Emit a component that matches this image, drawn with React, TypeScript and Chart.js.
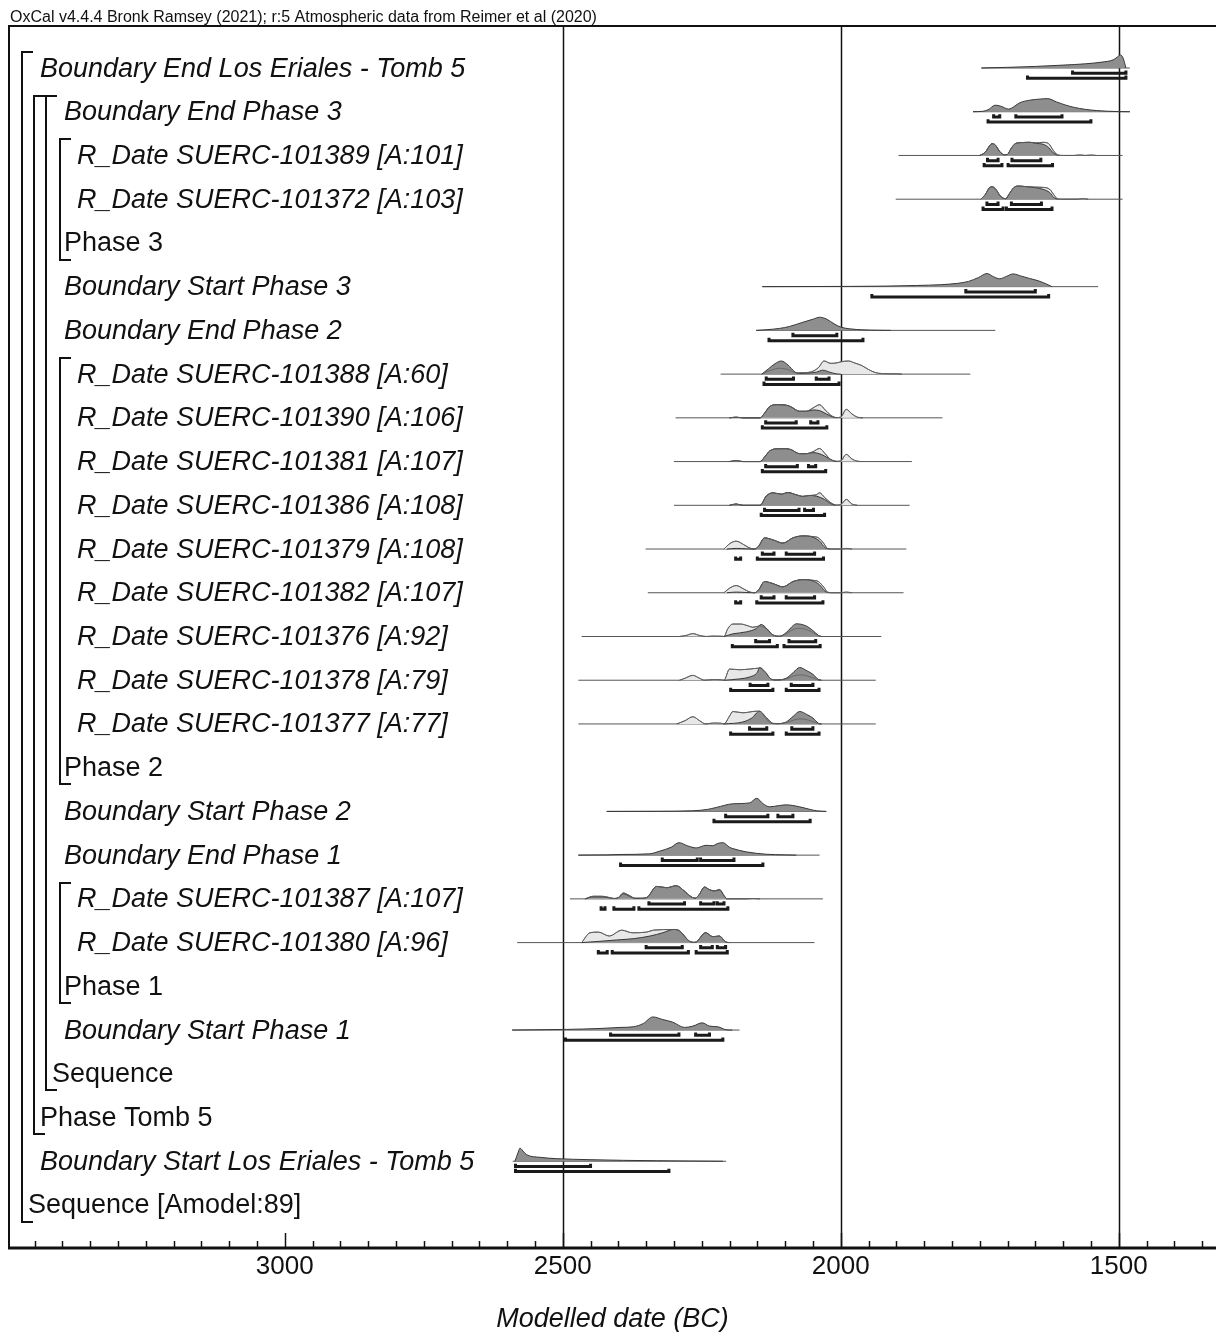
import { useEffect, useRef } from 'react';
import { Chart, registerables } from 'chart.js';
Chart.register(...registerables);

// ---------- text ----------
const headerText = 'OxCal v4.4.4 Bronk Ramsey (2021); r:5 Atmospheric data from Reimer et al (2020)';
const axisTitle = 'Modelled date (BC)';
const majorTicks = [3000, 2500, 2000, 1500];
const gridYears = [2500, 2000, 1500];
const minorTickFrom = 3450;
const minorTickTo = 1350;
const minorTickStep = 50;

const rowLabels = [
  'Boundary End Los Eriales - Tomb 5',
  'Boundary End Phase 3',
  'R_Date SUERC-101389 [A:101]',
  'R_Date SUERC-101372 [A:103]',
  'Phase 3',
  'Boundary Start Phase 3',
  'Boundary End Phase 2',
  'R_Date SUERC-101388 [A:60]',
  'R_Date SUERC-101390 [A:106]',
  'R_Date SUERC-101381 [A:107]',
  'R_Date SUERC-101386 [A:108]',
  'R_Date SUERC-101379 [A:108]',
  'R_Date SUERC-101382 [A:107]',
  'R_Date SUERC-101376 [A:92]',
  'R_Date SUERC-101378 [A:79]',
  'R_Date SUERC-101377 [A:77]',
  'Phase 2',
  'Boundary Start Phase 2',
  'Boundary End Phase 1',
  'R_Date SUERC-101387 [A:107]',
  'R_Date SUERC-101380 [A:96]',
  'Phase 1',
  'Boundary Start Phase 1',
  'Sequence',
  'Phase Tomb 5',
  'Boundary Start Los Eriales - Tomb 5',
  'Sequence [Amodel:89]',
];
const rowLevels = [1, 3, 4, 4, 3, 3, 3, 4, 4, 4, 4, 4, 4, 4, 4, 4, 3, 3, 3, 4, 4, 3, 3, 2, 1, 1, 0];
const rowItalic = [1, 1, 1, 1, 0, 1, 1, 1, 1, 1, 1, 1, 1, 1, 1, 1, 0, 1, 1, 1, 1, 0, 1, 0, 0, 1, 0];
// [firstRow, lastRow, level]
const groups = [
  [0, 26, 0],
  [1, 24, 1],
  [1, 23, 2],
  [2, 4, 3],
  [7, 16, 3],
  [19, 21, 3],
];

// ---------- distributions: [year BC, relative probability] ----------
const endTomb5Post = [[1747, 0], [1700, 0.05], [1650, 0.12], [1600, 0.22], [1560, 0.32], [1530, 0.45], [1510, 0.62], [1502, 0.85], [1497, 1.0], [1492, 0.75], [1487, 0]];
const endTomb5Base = [1747, 1480];
const endTomb5R68 = [[1583, 1487]];
const endTomb5R95 = [[1664, 1487]];

const endP3Post = [[1762, 0], [1745, 0.03], [1735, 0.15], [1722, 0.5], [1712, 0.42], [1698, 0.2], [1688, 0.4], [1678, 0.68], [1660, 0.88], [1640, 0.97], [1628, 1.0], [1612, 0.75], [1595, 0.5], [1580, 0.33], [1560, 0.18], [1540, 0.09], [1520, 0.04], [1500, 0.01], [1480, 0]];
const endP3Base = [1762, 1480];
const endP3R68 = [[1725, 1714], [1685, 1602]];
const endP3R95 = [[1735, 1550]];

const s101389Post = [[1750, 0], [1740, 0.25], [1732, 0.75], [1728, 0.9], [1722, 0.8], [1714, 0.3], [1706, 0.05], [1700, 0.08], [1694, 0.5], [1686, 0.9], [1675, 0.98], [1660, 1.0], [1648, 0.92], [1636, 0.85], [1626, 0.6], [1618, 0.2], [1610, 0]];
const s101389Like = [[1750, 0], [1740, 0.25], [1732, 0.75], [1728, 0.9], [1722, 0.8], [1714, 0.3], [1706, 0.05], [1700, 0.08], [1694, 0.5], [1686, 0.9], [1675, 0.98], [1660, 1.0], [1648, 0.96], [1636, 1.0], [1626, 0.9], [1618, 0.4], [1610, 0.05], [1600, 0], [1580, 0], [1570, 0.04], [1560, 0], [1550, 0.03], [1540, 0]];
const s101389Base = [1896, 1493];
const s101389R68 = [[1736, 1717], [1692, 1640]];
const s101389R95 = [[1742, 1710], [1699, 1619]];

const s101372Post = [[1748, 0], [1740, 0.35], [1733, 0.85], [1728, 0.95], [1722, 0.8], [1712, 0.2], [1703, 0.04], [1697, 0.4], [1688, 0.9], [1680, 1.0], [1665, 0.95], [1650, 0.88], [1636, 0.75], [1624, 0.5], [1616, 0.1], [1610, 0]];
const s101372Like = [[1748, 0], [1740, 0.35], [1733, 0.85], [1728, 0.95], [1722, 0.8], [1712, 0.2], [1703, 0.04], [1697, 0.4], [1688, 0.9], [1680, 1.0], [1665, 0.95], [1650, 0.92], [1636, 0.9], [1624, 0.75], [1616, 0.3], [1610, 0.03], [1600, 0], [1575, 0], [1565, 0.04], [1555, 0]];
const s101372Base = [1901, 1493];
const s101372R68 = [[1737, 1717], [1693, 1639]];
const s101372R95 = [[1744, 1708], [1702, 1620]];

const startP3Post = [[2141, 0], [2050, 0.01], [1984, 0.02], [1924, 0.04], [1864, 0.09], [1820, 0.15], [1790, 0.25], [1770, 0.4], [1752, 0.7], [1737, 1.0], [1725, 0.75], [1714, 0.6], [1702, 0.78], [1690, 0.97], [1675, 0.8], [1660, 0.62], [1645, 0.45], [1630, 0.2], [1620, 0]];
const startP3Base = [2141, 1537];
const startP3R68 = [[1775, 1650]];
const startP3R95 = [[1944, 1626]];

const endP2Post = [[2152, 0], [2134, 0.05], [2110, 0.15], [2092, 0.3], [2068, 0.62], [2050, 0.85], [2038, 1.0], [2025, 0.85], [2012, 0.5], [2000, 0.25], [1984, 0.12], [1960, 0.04], [1930, 0.01], [1910, 0]];
const endP2Base = [2152, 1722];
const endP2R68 = [[2086, 2007]];
const endP2R95 = [[2129, 1960]];

const s101388Post = [[2142, 0], [2130, 0.4], [2118, 0.8], [2107, 1.0], [2095, 0.7], [2082, 0.15], [2074, 0.05], [2060, 0.07], [2044, 0.15], [2032, 0.3], [2020, 0.15], [2008, 0.02], [2000, 0]];
const s101388Like = [[2142, 0], [2128, 0.25], [2110, 0.45], [2095, 0.35], [2082, 0.12], [2070, 0.1], [2055, 0.15], [2040, 0.5], [2030, 1.0], [2018, 0.82], [2008, 0.85], [1998, 0.95], [1986, 1.0], [1975, 0.85], [1962, 0.65], [1950, 0.35], [1938, 0.12], [1925, 0.04], [1900, 0.02], [1890, 0]];
const s101388Base = [2216, 1767];
const s101388R68 = [[2134, 2085], [2044, 2021]];
const s101388R95 = [[2138, 2003]];

const s101390Post = [[2200, 0], [2188, 0.05], [2176, 0], [2145, 0], [2138, 0.3], [2128, 0.85], [2116, 1.0], [2100, 0.98], [2090, 0.85], [2074, 0.5], [2062, 0.5], [2050, 0.6], [2038, 0.55], [2026, 0.3], [2015, 0.08], [2008, 0]];
const s101390Like = [[2200, 0], [2188, 0.05], [2176, 0], [2145, 0], [2138, 0.3], [2128, 0.85], [2116, 1.0], [2100, 0.98], [2090, 0.85], [2074, 0.5], [2062, 0.5], [2050, 0.75], [2038, 1.0], [2028, 0.6], [2018, 0.2], [2008, 0.02], [2000, 0.05], [1990, 0.65], [1980, 0.3], [1970, 0.05], [1960, 0]];
const s101390Base = [2297, 1817];
const s101390R68 = [[2135, 2080], [2054, 2041]];
const s101390R95 = [[2141, 2025]];

const s101381Post = [[2200, 0], [2188, 0.07], [2176, 0], [2145, 0], [2136, 0.4], [2128, 0.8], [2116, 0.97], [2100, 0.98], [2090, 0.92], [2074, 0.6], [2062, 0.6], [2050, 0.68], [2035, 0.55], [2022, 0.25], [2012, 0.05], [2006, 0]];
const s101381Like = [[2200, 0], [2188, 0.07], [2176, 0], [2145, 0], [2136, 0.4], [2128, 0.8], [2116, 0.97], [2100, 0.98], [2090, 0.92], [2074, 0.6], [2062, 0.6], [2050, 0.75], [2038, 1.0], [2028, 0.6], [2018, 0.15], [2008, 0.02], [2000, 0.05], [1990, 0.55], [1980, 0.2], [1970, 0.03], [1960, 0]];
const s101381Base = [2300, 1872];
const s101381R68 = [[2135, 2078], [2058, 2045]];
const s101381R95 = [[2141, 2027]];

const s101386Post = [[2200, 0], [2188, 0.1], [2176, 0], [2145, 0], [2134, 0.7], [2122, 0.95], [2107, 0.85], [2095, 0.97], [2080, 0.8], [2068, 0.68], [2056, 0.75], [2044, 0.7], [2029, 0.45], [2018, 0.12], [2010, 0]];
const s101386Like = [[2200, 0], [2188, 0.1], [2176, 0], [2145, 0], [2134, 0.7], [2122, 0.95], [2107, 0.85], [2095, 0.97], [2080, 0.8], [2068, 0.68], [2056, 0.75], [2044, 0.8], [2038, 0.95], [2029, 0.6], [2018, 0.2], [2008, 0.02], [2000, 0.05], [1990, 0.45], [1980, 0.1], [1970, 0]];
const s101386Base = [2300, 1876];
const s101386R68 = [[2137, 2075], [2065, 2049]];
const s101386R95 = [[2143, 2029]];

const s101379Post = [[2205, 0], [2188, 0.05], [2170, 0.02], [2155, 0], [2148, 0.2], [2137, 0.85], [2122, 0.7], [2104, 0.45], [2086, 0.85], [2068, 1.0], [2050, 0.9], [2038, 0.6], [2028, 0.1], [2020, 0]];
const s101379Like = [[2210, 0], [2200, 0.4], [2188, 0.6], [2175, 0.35], [2165, 0.1], [2155, 0], [2148, 0.2], [2137, 0.85], [2122, 0.7], [2104, 0.45], [2086, 0.85], [2068, 1.0], [2050, 0.95], [2040, 0.85], [2030, 0.4], [2024, 0.05], [2015, 0], [2000, 0], [1990, 0.05], [1980, 0]];
const s101379Base = [2351, 1882];
const s101379R68 = [[2141, 2120], [2098, 2047]];
const s101379R95 = [[2189, 2180], [2150, 2031]];

const s101382Post = [[2205, 0], [2188, 0.05], [2170, 0.02], [2155, 0], [2148, 0.2], [2137, 0.85], [2122, 0.7], [2104, 0.45], [2086, 0.85], [2068, 1.0], [2050, 0.9], [2038, 0.6], [2028, 0.1], [2020, 0]];
const s101382Like = [[2210, 0], [2200, 0.35], [2188, 0.55], [2175, 0.3], [2165, 0.08], [2155, 0], [2148, 0.2], [2137, 0.85], [2122, 0.7], [2104, 0.45], [2086, 0.85], [2068, 1.0], [2050, 0.95], [2040, 0.85], [2030, 0.4], [2024, 0.05], [2015, 0], [2000, 0], [1990, 0.05], [1980, 0]];
const s101382Base = [2347, 1887];
const s101382R68 = [[2143, 2120], [2098, 2047]];
const s101382R95 = [[2189, 2180], [2151, 2032]];

const s101376Post = [[2210, 0], [2194, 0.2], [2170, 0.35], [2152, 0.6], [2143, 0.92], [2133, 0.6], [2122, 0.12], [2110, 0.02], [2098, 0.3], [2085, 0.85], [2080, 0.97], [2062, 0.8], [2050, 0.45], [2040, 0.08], [2035, 0]];
const s101376Like = [[2290, 0], [2278, 0.08], [2266, 0.22], [2254, 0.08], [2242, 0], [2230, 0.03], [2215, 0.02], [2210, 0], [2203, 0.6], [2194, 0.95], [2180, 0.95], [2166, 0.8], [2158, 0.7], [2146, 0.8], [2133, 0.55], [2122, 0.12], [2110, 0.02], [2098, 0.2], [2085, 0.55], [2074, 0.62], [2060, 0.5], [2050, 0.3], [2040, 0.05], [2035, 0]];
const s101376Base = [2466, 1927];
const s101376R68 = [[2153, 2128], [2093, 2045]];
const s101376R95 = [[2195, 2114], [2102, 2037]];

const s101378Post = [[2210, 0], [2182, 0.1], [2164, 0.25], [2150, 0.6], [2146, 0.97], [2136, 0.65], [2125, 0.08], [2115, 0.02], [2098, 0.15], [2085, 0.6], [2074, 0.97], [2060, 0.7], [2050, 0.45], [2040, 0.05], [2035, 0]];
const s101378Like = [[2290, 0], [2280, 0.15], [2266, 0.37], [2254, 0.15], [2245, 0], [2230, 0.05], [2215, 0.03], [2210, 0], [2200, 0.85], [2182, 0.8], [2164, 0.85], [2146, 0.92], [2136, 0.6], [2125, 0.08], [2115, 0.02], [2098, 0.1], [2080, 0.38], [2070, 0.4], [2055, 0.25], [2040, 0.02], [2035, 0]];
const s101378Base = [2472, 1937];
const s101378R68 = [[2163, 2131], [2089, 2050]];
const s101378R95 = [[2198, 2122], [2098, 2039]];

const s101377Post = [[2210, 0], [2176, 0.15], [2160, 0.45], [2146, 0.97], [2134, 0.5], [2122, 0.05], [2110, 0.02], [2098, 0.15], [2085, 0.6], [2074, 0.95], [2060, 0.7], [2050, 0.45], [2040, 0.05], [2035, 0]];
const s101377Like = [[2295, 0], [2280, 0.25], [2266, 0.55], [2254, 0.25], [2243, 0], [2230, 0.07], [2215, 0.05], [2210, 0], [2200, 0.6], [2194, 0.95], [2176, 0.85], [2152, 0.97], [2146, 0.97], [2136, 0.5], [2125, 0.05], [2115, 0.02], [2098, 0.1], [2080, 0.35], [2068, 0.38], [2055, 0.25], [2040, 0.02], [2035, 0]];
const s101377Base = [2472, 1937];
const s101377R68 = [[2164, 2133], [2088, 2050]];
const s101377R95 = [[2198, 2122], [2098, 2039]];

const startP2Post = [[2421, 0], [2330, 0.01], [2266, 0.05], [2240, 0.15], [2224, 0.3], [2194, 0.58], [2164, 0.65], [2151, 1.0], [2140, 0.6], [2128, 0.35], [2110, 0.45], [2098, 0.5], [2074, 0.35], [2055, 0.15], [2044, 0.05], [2026, 0]];
const startP2Base = [2421, 2026];
const startP2R68 = [[2207, 2131], [2113, 2086]];
const startP2R95 = [[2228, 2055]];

const endP1Post = [[2472, 0], [2420, 0.02], [2397, 0.05], [2344, 0.1], [2326, 0.3], [2305, 0.6], [2291, 0.95], [2275, 0.7], [2260, 0.55], [2242, 0.75], [2230, 0.72], [2222, 0.88], [2212, 0.95], [2200, 0.6], [2194, 0.5], [2170, 0.25], [2134, 0.07], [2100, 0.02], [2080, 0]];
const endP1Base = [2472, 2038];
const endP1R68 = [[2321, 2258], [2252, 2192]];
const endP1R95 = [[2396, 2140]];

const s101387Post = [[2460, 0], [2445, 0.15], [2430, 0.15], [2421, 0.12], [2408, 0.03], [2400, 0.08], [2391, 0.4], [2380, 0.2], [2370, 0.04], [2360, 0.04], [2349, 0.1], [2331, 0.95], [2313, 0.85], [2296, 1.0], [2280, 0.55], [2272, 0.25], [2262, 0.05], [2255, 0.3], [2245, 0.9], [2236, 0.7], [2227, 0.6], [2218, 0.68], [2210, 0.25], [2205, 0]];
const s101387Like = [[2460, 0], [2445, 0.2], [2430, 0.2], [2421, 0.15], [2408, 0.03], [2400, 0.1], [2391, 0.45], [2380, 0.25], [2370, 0.05], [2360, 0.05], [2349, 0.1], [2331, 0.95], [2313, 0.85], [2296, 1.0], [2280, 0.55], [2272, 0.25], [2262, 0.05], [2255, 0.3], [2245, 0.9], [2236, 0.7], [2227, 0.6], [2218, 0.72], [2210, 0.25], [2205, 0], [2170, 0], [2158, 0.03], [2145, 0]];
const s101387Base = [2487, 2032];
const s101387R68 = [[2345, 2281], [2252, 2228], [2222, 2210]];
const s101387R95 = [[2431, 2424], [2408, 2372], [2363, 2203]];

const s101380Post = [[2466, 0], [2433, 0.1], [2403, 0.2], [2373, 0.3], [2343, 0.5], [2320, 0.75], [2301, 1.0], [2290, 0.9], [2272, 0.1], [2262, 0.02], [2243, 0.75], [2230, 0.45], [2218, 0.5], [2207, 0.05], [2200, 0]];
const s101380Like = [[2466, 0], [2451, 0.75], [2436, 0.8], [2416, 0.5], [2394, 0.95], [2375, 0.75], [2349, 0.8], [2337, 0.95], [2301, 1.0], [2290, 0.9], [2272, 0.1], [2262, 0.02], [2243, 0.75], [2230, 0.45], [2218, 0.5], [2207, 0.05], [2200, 0]];
const s101380Base = [2582, 2047];
const s101380R68 = [[2350, 2285], [2252, 2231], [2222, 2207]];
const s101380R95 = [[2436, 2420], [2411, 2274], [2260, 2204]];

const startP1Post = [[2591, 0], [2550, 0.02], [2493, 0.05], [2433, 0.12], [2397, 0.2], [2373, 0.25], [2355, 0.5], [2338, 1.0], [2320, 0.8], [2302, 0.6], [2281, 0.2], [2266, 0.3], [2249, 0.55], [2236, 0.3], [2221, 0.25], [2206, 0.02], [2195, 0]];
const startP1Base = [2591, 2182];
const startP1R68 = [[2414, 2291], [2261, 2236]];
const startP1R95 = [[2495, 2212]];

const startTomb5Post = [[2586, 0], [2580, 0.7], [2577, 1.0], [2570, 0.7], [2565, 0.5], [2541, 0.3], [2511, 0.2], [2451, 0.12], [2391, 0.07], [2332, 0.04], [2272, 0.02], [2212, 0]];
const startTomb5Base = [2590, 2206];
const startTomb5R68 = [[2585, 2450]];
const startTomb5R95 = [[2585, 2309]];

const distTable = [
  { row: 0, post: endTomb5Post, like: null, base: endTomb5Base, r68: endTomb5R68, r95: endTomb5R95 },
  { row: 1, post: endP3Post, like: null, base: endP3Base, r68: endP3R68, r95: endP3R95 },
  { row: 2, post: s101389Post, like: s101389Like, base: s101389Base, r68: s101389R68, r95: s101389R95 },
  { row: 3, post: s101372Post, like: s101372Like, base: s101372Base, r68: s101372R68, r95: s101372R95 },
  { row: 5, post: startP3Post, like: null, base: startP3Base, r68: startP3R68, r95: startP3R95 },
  { row: 6, post: endP2Post, like: null, base: endP2Base, r68: endP2R68, r95: endP2R95 },
  { row: 7, post: s101388Post, like: s101388Like, base: s101388Base, r68: s101388R68, r95: s101388R95 },
  { row: 8, post: s101390Post, like: s101390Like, base: s101390Base, r68: s101390R68, r95: s101390R95 },
  { row: 9, post: s101381Post, like: s101381Like, base: s101381Base, r68: s101381R68, r95: s101381R95 },
  { row: 10, post: s101386Post, like: s101386Like, base: s101386Base, r68: s101386R68, r95: s101386R95 },
  { row: 11, post: s101379Post, like: s101379Like, base: s101379Base, r68: s101379R68, r95: s101379R95 },
  { row: 12, post: s101382Post, like: s101382Like, base: s101382Base, r68: s101382R68, r95: s101382R95 },
  { row: 13, post: s101376Post, like: s101376Like, base: s101376Base, r68: s101376R68, r95: s101376R95 },
  { row: 14, post: s101378Post, like: s101378Like, base: s101378Base, r68: s101378R68, r95: s101378R95 },
  { row: 15, post: s101377Post, like: s101377Like, base: s101377Base, r68: s101377R68, r95: s101377R95 },
  { row: 17, post: startP2Post, like: null, base: startP2Base, r68: startP2R68, r95: startP2R95 },
  { row: 18, post: endP1Post, like: null, base: endP1Base, r68: endP1R68, r95: endP1R95 },
  { row: 19, post: s101387Post, like: s101387Like, base: s101387Base, r68: s101387R68, r95: s101387R95 },
  { row: 20, post: s101380Post, like: s101380Like, base: s101380Base, r68: s101380R68, r95: s101380R95 },
  { row: 22, post: startP1Post, like: null, base: startP1Base, r68: startP1R68, r95: startP1R95 },
  { row: 25, post: startTomb5Post, like: null, base: startTomb5Base, r68: startTomb5R68, r95: startTomb5R95 },
];

// ---------- styling ----------
const FONT = '"Liberation Sans", Arial, Helvetica, sans-serif';
const PEAK = 0.3; // row units
const OFF68 = 0.12;
const OFF95 = 0.235;
const TICKUP = 0.065;
const DARK_FILL = 'rgb(142,142,142)';
const DARK_LINE = 'rgb(55,55,55)';
const LIGHT_FILL = 'rgb(232,232,232)';
const LIGHT_LINE = 'rgb(95,95,95)';
const BASE_LINE = 'rgb(85,85,85)';
const INK = '#111';
const bracketX = [22, 34, 46, 60];
const labelX = [28, 40, 52, 64, 77];

function curve(pts: number[][], row: number) {
  return pts.map(([yr, p]) => ({ x: yr, y: row - p * PEAK }));
}
function rangePts(segs: number[][], row: number, off: number) {
  const out: { x: number; y: number }[] = [];
  segs.forEach(([a, b]) => {
    out.push({ x: a, y: row + off - TICKUP }, { x: a, y: row + off }, { x: b, y: row + off }, { x: b, y: row + off - TICKUP }, { x: b, y: NaN });
  });
  return out;
}

function buildDatasets() {
  const ds: any[] = [];
  const common = { pointRadius: 0, cubicInterpolationMode: 'monotone', spanGaps: false };
  const all68: any[] = [];
  const all95: any[] = [];
  distTable.forEach((d) => {
    ds.push({ ...common, order: 50, data: [{ x: d.base[0], y: d.row }, { x: d.base[1], y: d.row }], borderColor: BASE_LINE, borderWidth: 1, fill: false });
    if (d.like) {
      ds.push({ ...common, order: 40, data: curve(d.like, d.row), borderColor: LIGHT_LINE, borderWidth: 1, backgroundColor: LIGHT_FILL, fill: { value: d.row } });
    }
    ds.push({ ...common, order: 30, data: curve(d.post, d.row), borderColor: DARK_LINE, borderWidth: 1, backgroundColor: DARK_FILL, fill: { value: d.row } });
    if (d.like) {
      ds.push({ ...common, order: 20, data: curve(d.like, d.row), borderColor: LIGHT_LINE, borderWidth: 0.8, fill: false });
    }
    all68.push(...rangePts(d.r68, d.row, OFF68));
    all95.push(...rangePts(d.r95, d.row, OFF95));
  });
  ds.push({ pointRadius: 0, order: 10, data: all68, borderColor: '#1a1a1a', borderWidth: 3, borderJoinStyle: 'miter', borderCapStyle: 'butt', fill: false, spanGaps: false, tension: 0 });
  ds.push({ pointRadius: 0, order: 10, data: all95, borderColor: '#1a1a1a', borderWidth: 3, borderJoinStyle: 'miter', borderCapStyle: 'butt', fill: false, spanGaps: false, tension: 0 });
  return ds;
}

const decor = {
  id: 'oxcalDecor',
  beforeDatasetsDraw(chart: any) {
    const { ctx, chartArea, scales } = chart;
    ctx.save();
    ctx.strokeStyle = INK;
    ctx.lineWidth = 1.5;
    gridYears.forEach((yr) => {
      const x = Math.round(scales.x.getPixelForValue(yr)) + 0.5;
      ctx.beginPath();
      ctx.moveTo(x, chartArea.top);
      ctx.lineTo(x, chartArea.bottom);
      ctx.stroke();
    });
    ctx.restore();
  },
  afterDraw(chart: any) {
    const { ctx, chartArea, scales } = chart;
    const xs = scales.x;
    const ys = scales.y;
    ctx.save();
    // frame
    ctx.strokeStyle = INK;
    ctx.lineWidth = 2;
    ctx.beginPath();
    ctx.moveTo(chartArea.right, chartArea.top);
    ctx.lineTo(chartArea.left, chartArea.top);
    ctx.lineTo(chartArea.left, chartArea.bottom);
    ctx.stroke();
    ctx.lineWidth = 3;
    ctx.beginPath();
    ctx.moveTo(chartArea.left - 1, chartArea.bottom);
    ctx.lineTo(chartArea.right, chartArea.bottom);
    ctx.stroke();
    // ticks
    ctx.lineWidth = 1.5;
    for (let yr = minorTickFrom; yr >= minorTickTo; yr -= minorTickStep) {
      const x = Math.round(xs.getPixelForValue(yr)) + 0.5;
      const len = majorTicks.includes(yr) ? 15 : 7;
      ctx.beginPath();
      ctx.moveTo(x, chartArea.bottom);
      ctx.lineTo(x, chartArea.bottom - len);
      ctx.stroke();
    }
    // tick labels
    ctx.fillStyle = INK;
    ctx.font = `26px ${FONT}`;
    ctx.textAlign = 'center';
    ctx.textBaseline = 'middle';
    majorTicks.forEach((yr) => {
      ctx.fillText(String(yr), xs.getPixelForValue(yr), chartArea.bottom + 19);
    });
    ctx.font = `italic 27px ${FONT}`;
    ctx.fillText(axisTitle, (chartArea.left + chartArea.right) / 2, chartArea.bottom + 71);
    // header
    ctx.textAlign = 'left';
    ctx.textBaseline = 'alphabetic';
    ctx.font = `16px ${FONT}`;
    ctx.fillText(headerText, 10, chartArea.top - 4);
    // row labels
    ctx.textBaseline = 'middle';
    rowLabels.forEach((lab, i) => {
      ctx.font = `${rowItalic[i] ? 'italic ' : ''}27px ${FONT}`;
      ctx.fillText(lab, labelX[rowLevels[i]], ys.getPixelForValue(i) + 1);
    });
    // brackets
    ctx.lineWidth = 2;
    groups.forEach(([a, b, lvl]) => {
      const x = bracketX[lvl];
      const top = Math.round(ys.getPixelForValue(a - 0.37));
      const bot = Math.round(ys.getPixelForValue(b + 0.38));
      ctx.beginPath();
      ctx.moveTo(x + 11, top);
      ctx.lineTo(x, top);
      ctx.lineTo(x, bot);
      ctx.lineTo(x + 11, bot);
      ctx.stroke();
    });
    ctx.restore();
  },
};

export default function App() {
  const ref = useRef<HTMLCanvasElement | null>(null);
  useEffect(() => {
    document.body.style.margin = '0';
    const canvas = ref.current;
    if (!canvas) return;
    const rowPx = 43.73;
    const top = 26;
    const bottom = 1248;
    const chart = new Chart(canvas, {
      type: 'line',
      data: { datasets: buildDatasets() },
      options: {
        animation: false,
        responsive: false,
        events: [],
        layout: { padding: { left: 9, top: top, right: 0, bottom: 1332 - bottom } },
        plugins: { legend: { display: false }, tooltip: { enabled: false } },
        scales: {
          x: { type: 'linear', min: 1325, max: 3496, reverse: true, display: false },
          y: { type: 'linear', min: -(68 - top) / rowPx, max: (bottom - 68) / rowPx, reverse: true, display: false },
        },
      },
      plugins: [decor],
    } as any);
    return () => chart.destroy();
  }, []);
  return <canvas ref={ref} width={1216} height={1332} style={{ display: 'block' }} />;
}
